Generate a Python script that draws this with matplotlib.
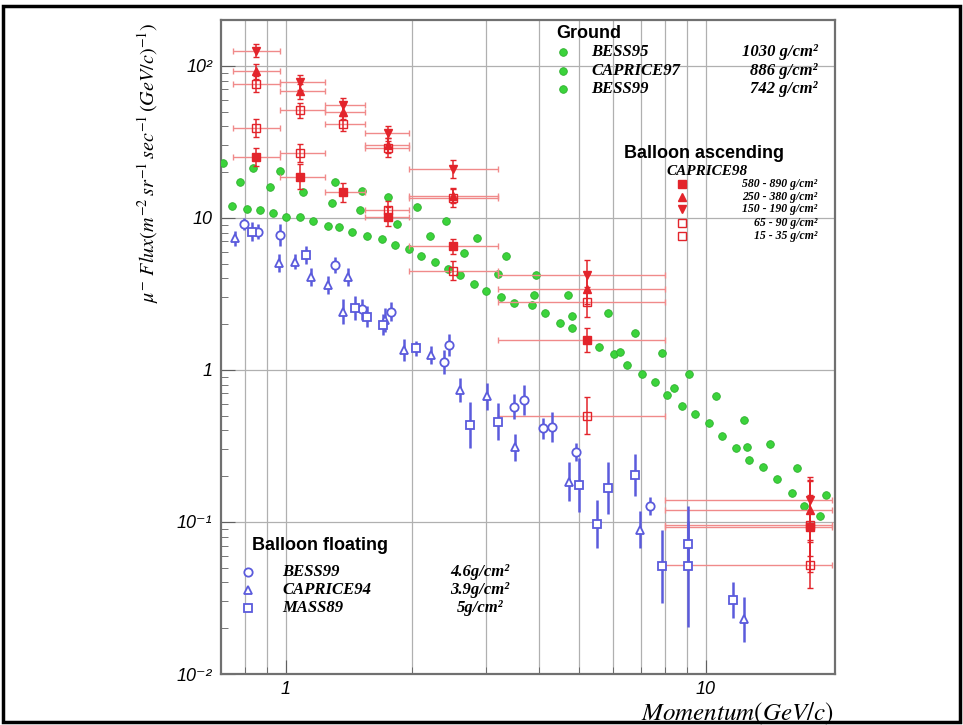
import numpy as np
import matplotlib.pyplot as plt
from matplotlib.patches import Rectangle

plt.rcParams['mathtext.fontset'] = 'stix'

# --- Ground level data (green) ---
bess95_p = [0.744, 0.81, 0.867, 0.93, 1.0, 1.08, 1.16, 1.26, 1.34, 1.44, 1.56, 1.69, 1.82,
            1.96, 2.1, 2.26, 2.43, 2.6, 2.8, 3.0, 3.25, 3.5, 3.85, 4.14, 4.49, 4.81,
            5.58, 6.06, 6.48, 7.03, 7.55, 8.08, 8.78, 9.4, 10.2, 10.9, 11.8, 12.7,
            13.7, 14.8, 16.0, 17.1, 18.7]
bess95_f = [11.9, 11.4, 11.2, 10.8, 10.2, 10.1, 9.5, 8.9, 8.7, 8.1, 7.6, 7.3, 6.6,
            6.2, 5.6, 5.1, 4.6, 4.2, 3.7, 3.3, 3.0, 2.75, 2.68, 2.36, 2.05, 1.88,
            1.41, 1.27, 1.08, 0.94, 0.83, 0.685, 0.58, 0.51, 0.45, 0.37, 0.305, 0.256,
            0.229, 0.191, 0.156, 0.127, 0.11]
caprice97_p = [0.777, 0.916, 1.1, 1.29, 1.5, 1.84, 2.2, 2.65, 3.2, 3.9, 4.79, 6.23, 8.38, 12.5]
caprice97_f = [17.3, 16.0, 14.7, 12.6, 11.2, 9.1, 7.6, 5.9, 4.3, 3.1, 2.27, 1.32, 0.76, 0.31]
bess99g_p = [0.708, 0.834, 0.968, 1.31, 1.52, 1.75, 2.05, 2.4, 2.85, 3.35, 3.95, 4.7,
             5.85, 6.77, 7.87, 9.1, 10.6, 12.3, 14.2, 16.5, 19.3]
bess99g_f = [23.0, 21.3, 20.2, 17.1, 15.1, 13.8, 11.8, 9.6, 7.4, 5.6, 4.2, 3.1,
             2.38, 1.74, 1.29, 0.94, 0.675, 0.47, 0.326, 0.225, 0.15]

# --- CAPRICE98 balloon ascending (red), momentum bins ---
asc_lo = [0.75, 0.97, 1.24, 1.54, 1.97, 3.2, 8.0]
asc_hi = [0.97, 1.24, 1.54, 1.97, 3.2, 8.0, 20.0]
asc_p = [0.85, 1.08, 1.37, 1.75, 2.5, 5.2, 17.7]
asc_580_890 = [25.0, 18.7, 14.7, 10.2, 6.5, 1.57, 0.093]
asc_250_380 = [92.0, 68.0, 50.0, 30.0, 14.0, 3.4, 0.12]
asc_150_190 = [126.0, 78.0, 55.0, 36.0, 21.0, 4.2, 0.14]
asc_65_90 = [76.0, 51.0, 41.5, 29.0, 13.5, 2.8, 0.095]
asc_15_35 = [39.0, 26.7, np.nan, 11.3, 4.5, 0.5, 0.052]
# error half widths in decades
asc_580_890_err = [0.06, 0.08, 0.06, 0.06, 0.05, 0.08, 0.3]
asc_250_380_err = [0.05, 0.05, 0.05, 0.05, 0.05, 0.1, 0.2]
asc_150_190_err = [0.04, 0.05, 0.05, 0.05, 0.06, 0.1, 0.15]
asc_65_90_err = [0.05, 0.05, 0.05, 0.06, 0.06, 0.1, 0.2]
asc_15_35_err = [0.06, 0.06, 0.0, 0.06, 0.06, 0.12, 0.15]

# --- Balloon floating (blue) ---
bess99_p = [0.795, 0.859, 0.967, 1.31, 1.52, 1.78, 2.38, 2.45, 3.49, 3.7, 4.09, 4.31, 4.92, 7.36]
bess99_f = [9.1, 8.13, 7.7, 4.9, 2.5, 2.42, 1.13, 1.46, 0.574, 0.635, 0.413, 0.423, 0.29, 0.127]
bess99_err = [0.04, 0.05, 0.07, 0.05, 0.07, 0.06, 0.08, 0.07, 0.08, 0.1, 0.07, 0.1, 0.06, 0.06]
caprice94_p = [0.756, 0.964, 1.05, 1.15, 1.26, 1.41, 1.37, 1.72, 1.91, 2.22, 2.60, 3.01, 3.51, 4.72, 6.97, 12.3]
caprice94_f = [7.35, 5.03, 5.16, 4.1, 3.62, 4.1, 2.42, 2.13, 1.35, 1.25, 0.74, 0.67, 0.31, 0.184, 0.089, 0.0229]
caprice94_err = [0.05, 0.06, 0.05, 0.06, 0.06, 0.06, 0.08, 0.08, 0.07, 0.06, 0.08, 0.09, 0.09, 0.13, 0.12, 0.15]
mass89_p = [0.833, 1.12, 1.46, 1.56, 1.70, 2.04, 2.75, 3.2, 5.0, 5.5, 5.85, 6.77, 7.87, 9.07, 9.07, 11.6]
mass89_f = [8.13, 5.7, 2.55, 2.24, 1.98, 1.39, 0.435, 0.457, 0.175, 0.097, 0.167, 0.204, 0.051, 0.072, 0.051, 0.0307]
mass89_err = [0.06, 0.06, 0.08, 0.07, 0.07, 0.05, 0.15, 0.12, 0.18, 0.16, 0.17, 0.14, 0.24, 0.15, 0.4, 0.12]

green = '#3bd33b'
red = '#e3242b'
pink = '#f08a8a'
blue = '#5b5bdc'
serif_bi = dict(family='Liberation Serif', style='italic', weight='bold')


def log_err(f, d):
    f = np.asarray(f, dtype=float)
    d = np.asarray(d, dtype=float)
    return [f - f * 10 ** (-d), f * 10 ** d - f]


fig = plt.figure(figsize=(9.63, 7.25), dpi=100)
ax = fig.add_axes([0.2292, 0.0703, 0.6379, 0.9021])
ax.set_xscale('log')
ax.set_yscale('log')
ax.set_xlim(0.7, 20.3)
ax.set_ylim(0.01, 200)

# grid: vertical at every x tick, horizontal at decades
ax.set_xticks([1, 10])
ax.set_xticks([0.8, 0.9, 2, 3, 4, 5, 6, 7, 8, 9], minor=True)
ax.set_xticklabels(['1', '10'], family='Liberation Sans', style='italic', fontsize=13)
ax.set_xticklabels([], minor=True)
ax.set_yticks([0.01, 0.1, 1, 10, 100])
ax.set_yticklabels(['10⁻²', '10⁻¹', '1', '10', '10²'],
                   family=['Liberation Sans', 'DejaVu Sans'], style='italic', fontsize=13)
ax.grid(True, which='both', axis='x', color='#b0b0b0', lw=0.9)
ax.grid(True, which='major', axis='y', color='#b0b0b0', lw=0.9)
ax.set_axisbelow(True)
ax.tick_params(which='both', direction='in', color='#606060')
ax.tick_params(which='major', length=10, pad=6)
ax.tick_params(which='minor', length=5)
ax.tick_params(axis='x', pad=5)
for s in ax.spines.values():
    s.set_color('#707070')
    s.set_linewidth(1.6)

# ground
for p, f in [(bess95_p, bess95_f), (caprice97_p, caprice97_f), (bess99g_p, bess99g_f)]:
    ax.plot(p, f, 'o', color=green, ms=5.5, mec='#2fb02f', mew=0.6, ls='none', zorder=3)

# balloon ascending
asc_p_arr = np.array(asc_p)
xerr = [asc_p_arr - np.array(asc_lo), np.array(asc_hi) - asc_p_arr]
asc_sets = [
    (asc_580_890, asc_580_890_err, 's', red),
    (asc_250_380, asc_250_380_err, '^', red),
    (asc_150_190, asc_150_190_err, 'v', red),
    (asc_65_90, asc_65_90_err, 's', 'none'),
    (asc_15_35, asc_15_35_err, 's', 'none'),
]
for f, d, m, fc in asc_sets:
    ax.errorbar(asc_p, f, xerr=xerr, fmt='none', ecolor=pink, elinewidth=1.0,
                capsize=2.5, zorder=4)
    ax.errorbar(asc_p, f, yerr=log_err(f, d), fmt=m, color=red, mfc=fc, mec=red,
                ms=6, ecolor=red, elinewidth=1.1, capsize=2.5, zorder=5)

# balloon floating
for p, f, d, m in [(bess99_p, bess99_f, bess99_err, 'o'),
                   (caprice94_p, caprice94_f, caprice94_err, '^'),
                   (mass89_p, mass89_f, mass89_err, 's')]:
    ax.errorbar(p, f, yerr=log_err(f, d), fmt=m, color=blue, mfc='white', mec=blue,
                ms=6, mew=1.3, ecolor=blue, elinewidth=1.8, capsize=0, zorder=5)

# overlay in pixel coordinates for legends, labels and frame
ov = fig.add_axes([0, 0, 1, 1], zorder=10)
ov.set_xlim(0, 963)
ov.set_ylim(725, 0)
ov.axis('off')
ov.patch.set_alpha(0)
ov.add_patch(Rectangle((3, 6), 957, 716, fill=False, lw=2.5, ec='black'))

ov.text(148, 163, r'$\mu^{-}\ Flux(m^{-2}\,sr^{-1}\,sec^{-1}\,(GeV/c)^{-1})$',
        rotation=90, ha='center', va='center', fontsize=14.5)
ov.text(834, 720, r'$Momentum(GeV/c)$', ha='right', va='baseline', fontsize=18)

# Ground legend
ov.text(556, 33, 'Ground', family='Liberation Sans', weight='bold', fontsize=13, va='center')
for y, name, dep in [(52, 'BESS95', '1030 g/cm²'), (71, 'CAPRICE97', '886 g/cm²'),
                     (89, 'BESS99', '742 g/cm²')]:
    ov.plot(563, y, 'o', color=green, ms=5.5, mec='#2fb02f', mew=0.6)
    ov.text(591, y, name, va='center', fontsize=12, **serif_bi)
    ov.text(818, y, dep, va='center', ha='right', fontsize=12, **serif_bi)

# Balloon ascending legend
ov.text(704, 153, 'Balloon ascending', family='Liberation Sans', weight='bold',
        fontsize=13, ha='center', va='center')
ov.text(707, 171, 'CAPRICE98', ha='center', va='center', fontsize=11, **serif_bi)
for y, m, fc, lab in [(184, 's', red, '580 - 890 g/cm²'), (197, '^', red, '250 - 380 g/cm²'),
                      (209, 'v', red, '150 - 190 g/cm²'), (223, 's', 'none', '65 - 90 g/cm²'),
                      (236, 's', 'none', '15 - 35 g/cm²')]:
    ov.plot(682, y, m, color=red, mfc=fc, mec=red, ms=6)
    ov.text(817, y, lab, ha='right', va='center', fontsize=8.5, **serif_bi)

# Balloon floating legend
ov.text(252, 545, 'Balloon floating', family='Liberation Sans', weight='bold',
        fontsize=13, va='center')
for y, m, name, dep in [(572, 'o', 'BESS99', '4.6g/cm²'), (590, '^', 'CAPRICE94', '3.9g/cm²'),
                        (608, 's', 'MASS89', '5g/cm²')]:
    ov.plot(248, y, m, color=blue, mfc='white', mec=blue, ms=6, mew=1.3)
    ov.text(282, y, name, va='center', fontsize=12, **serif_bi)
    ov.text(480, y, dep, va='center', ha='center', fontsize=12, **serif_bi)

fig.savefig('out.png', dpi=100)
